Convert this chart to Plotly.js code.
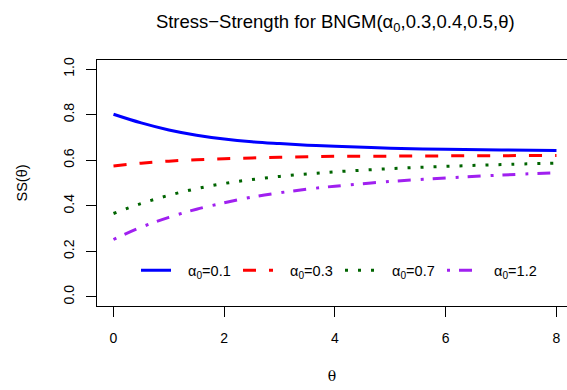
<!DOCTYPE html>
<html>
<head>
<meta charset="utf-8">
<script src="https://cdn.plot.ly/plotly-3.0.1.min.js"></script>
<style>html,body{margin:0;padding:0;background:#fff;}#chart{width:567px;height:390px;}</style>
</head>
<body>
<div id="chart"></div>
<script>
var theta = [0, 0.5, 1, 1.5, 2, 2.5, 3, 3.5, 4, 5, 6, 7, 8];
var ssA01 = [0.802, 0.764, 0.733, 0.710, 0.693, 0.681, 0.673, 0.666, 0.661, 0.653, 0.648, 0.645, 0.643];
var ssA03 = [0.575, 0.587, 0.596, 0.602, 0.607, 0.610, 0.613, 0.615, 0.617, 0.618, 0.619, 0.620, 0.621];
var ssA07 = [0.366, 0.410, 0.446, 0.475, 0.498, 0.515, 0.529, 0.540, 0.549, 0.563, 0.573, 0.581, 0.587];
var ssA12 = [0.252, 0.306, 0.349, 0.385, 0.413, 0.438, 0.457, 0.473, 0.486, 0.507, 0.522, 0.535, 0.545];
var seriesNames = ["α<sub>0</sub>=0.1", "α<sub>0</sub>=0.3", "α<sub>0</sub>=0.7", "α<sub>0</sub>=1.2"];
var xTicks = [0, 2, 4, 6, 8];
var yTicks = [0, 0.2, 0.4, 0.6, 0.8, 1.0];
var yTickText = ["0.0", "0.2", "0.4", "0.6", "0.8", "1.0"];

var pad = "\u00A0\u00A0\u00A0";
var ys = [ssA01, ssA03, ssA07, ssA12];
var colors = ["#0000FF", "#FF0000", "#006400", "#A020F0"];
var dashes = ["solid", "13px,13px", "3px,10px", "3px,9px,13px,10px"];
var traces = ys.map(function (y, i) {
  return {
    x: theta, y: y, type: "scatter", mode: "lines",
    name: pad + seriesNames[i],
    line: {color: colors[i], width: 3, dash: dashes[i], shape: "spline", smoothing: 1}
  };
});

var fam = "Liberation Sans, Arial, sans-serif";
var layout = {
  width: 567, height: 390,
  margin: {l: 96.5, r: 0, t: 60, b: 84.4},
  paper_bgcolor: "#fff", plot_bgcolor: "#fff",
  font: {family: fam, size: 13, color: "#000"},
  title: {
    text: "Stress−Strength for BNGM(α<sub>0</sub>,0.3,0.4,0.5,θ)",
    font: {family: fam, size: 18.5, color: "#000"},
    xref: "paper", x: 0.507, xanchor: "center",
    yref: "container", y: 0.945, yanchor: "middle"
  },
  xaxis: {
    range: [-0.298, 8.19], tickvals: xTicks, ticktext: xTicks.map(String),
    showgrid: false, zeroline: false,
    showline: true, mirror: true, linecolor: "#000", linewidth: 1,
    ticks: "outside", ticklen: 10, tickcolor: "#000", tickwidth: 1,
    tickfont: {family: fam, size: 14, color: "#000"},
    ticklabelstandoff: 9,
    title: {text: "θ", font: {family: "DejaVu Serif, serif", size: 14, color: "#000"}, standoff: 26}
  },
  yaxis: {
    range: [-0.04, 1.04], tickvals: yTicks, ticktext: yTickText,
    showgrid: false, zeroline: false,
    showline: true, mirror: false, linecolor: "#000", linewidth: 1,
    ticks: "outside", ticklen: 10, tickcolor: "#000", tickwidth: 1,
    tickangle: -90,
    tickfont: {family: fam, size: 14, color: "#000"},
    ticklabelstandoff: 6,
    title: {text: "SS(θ)", font: {family: fam, size: 14.5, color: "#000"}, standoff: 30}
  },
  showlegend: true,
  legend: {
    orientation: "h", x: 0.083, xanchor: "left", y: 0.145, yanchor: "middle",
    bgcolor: "rgba(0,0,0,0)", borderwidth: 0,
    font: {family: fam, size: 14.5, color: "#000"},
    entrywidth: 57, entrywidthmode: "pixels", traceorder: "normal"
  }
};

Plotly.newPlot("chart", traces, layout, {displayModeBar: false, staticPlot: true});
</script>
</body>
</html>
